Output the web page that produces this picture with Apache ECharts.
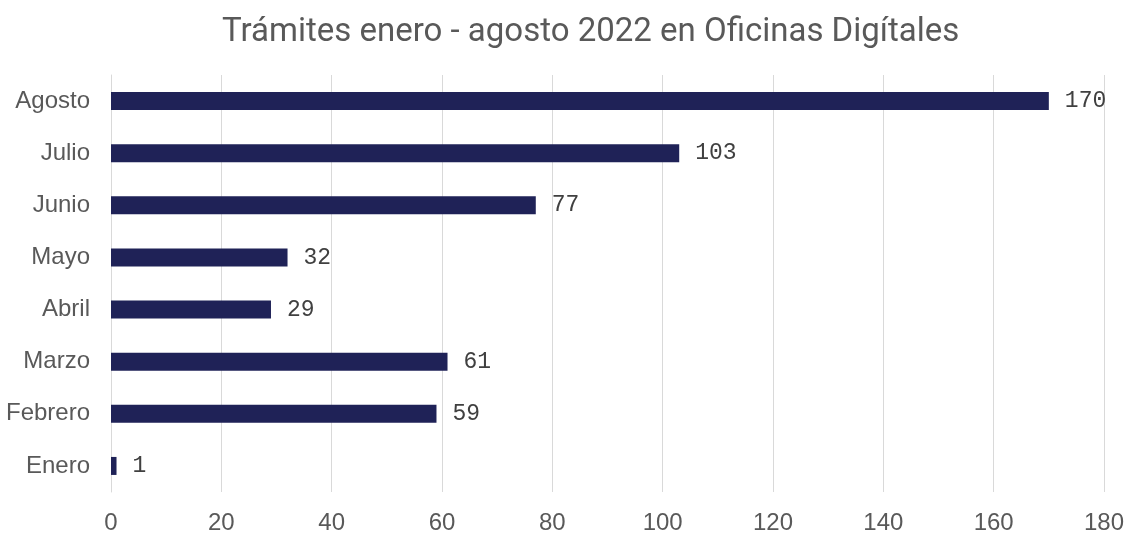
<!DOCTYPE html>
<html><head><meta charset="utf-8">
<script src="https://cdn.jsdelivr.net/npm/echarts@6/dist/echarts.min.js"></script>
<style>html,body{margin:0;padding:0;background:#fff}#c{width:1131px;height:535px}</style>
</head><body><div id="c"></div>
<script>
const categories = ['Enero','Febrero','Marzo','Abril','Mayo','Junio','Julio','Agosto'];
const values = [1, 59, 61, 29, 32, 77, 103, 170];
const title = 'Trámites enero - agosto 2022 en Oficinas Digítales';
const chart = echarts.init(document.getElementById('c'));
chart.setOption({
  animation: false,
  title: {text: title, left: 217, top: 11,
    textStyle: {fontFamily: 'Roboto', fontSize: 33, fontWeight: 'normal', color: '#595959'}},
  grid: {left: 111, right: 27, top: 75, bottom: 42, containLabel: false},
  xAxis: {type: 'value', min: 0, max: 180, interval: 20,
    axisLine: {show: false}, axisTick: {show: false},
    splitLine: {lineStyle: {color: '#d9d9d9', width: 1}},
    axisLabel: {fontFamily: 'Liberation Sans', fontSize: 24, color: '#595959', margin: 19}},
  yAxis: {type: 'category', data: categories,
    axisLine: {lineStyle: {color: '#d9d9d9'}}, axisTick: {show: false},
    axisLabel: {fontFamily: 'Liberation Sans', fontSize: 24, color: '#595959', margin: 21}},
  series: [{type: 'bar', data: values, barWidth: 18,
    itemStyle: {color: '#1f2257'},
    label: {show: true, position: 'right', distance: 16,
      fontFamily: 'Liberation Mono', fontSize: 23, color: '#404040'}}]
});
</script></body></html>
